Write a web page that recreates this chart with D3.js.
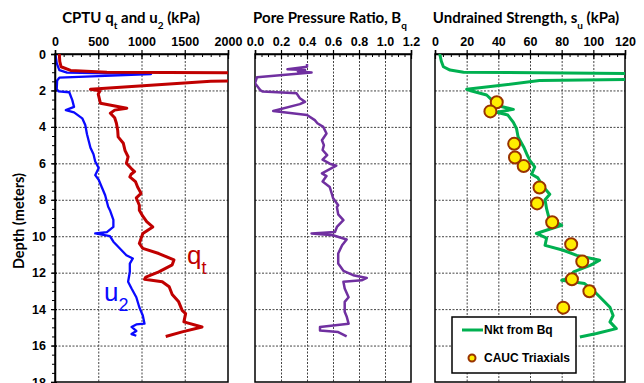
<!DOCTYPE html>
<html>
<head>
<meta charset="utf-8">
<script src="https://cdn.jsdelivr.net/npm/d3@7"></script>
<style>
  body { margin: 0; background: #fff; }
  svg { display: block; font-family: Lato, "Open Sans", sans-serif; }
  .grid line { stroke: #444; stroke-dasharray: 2,1.5; stroke-width: 1; }
  .grid .domain { display: none; }
  .tick text { font-weight: bold; font-size: 12.5px; }
</style>
</head>
<body>
<svg id="viz" width="644" height="383"></svg>
<script>
// ---- data ----
// CPTU tip resistance qt (kPa) vs depth (m)
const qtDepth = [0, 0.4, 0.7, 0.9, 1.0, 1.05, 1.4, 1.5, 1.94, 2.02, 2.2, 2.7, 2.98, 3.08, 3.25, 3.5, 3.8, 4.2, 4.55, 4.9, 5.3, 5.64, 6.0, 6.3, 6.45, 6.6, 6.74, 7.0, 7.3, 7.65, 7.9, 8.3, 8.57, 8.9, 9.2, 9.49, 9.85, 10.4, 10.67, 10.95, 11.3, 11.57, 11.96, 12.24, 12.36, 12.5, 12.77, 13.2, 13.6, 14.07, 14.25, 14.7, 14.98, 15.25, 15.5];
const qtValues = [50, 55, 70, 180, 600, 2600, 2600, 1800, 410, 520, 500, 525, 830, 690, 640, 690, 710, 725, 730, 790, 810, 845, 825, 885, 920, 880, 865, 930, 955, 995, 940, 975, 975, 1015, 1060, 1130, 1015, 975, 1015, 1200, 1375, 1355, 1200, 1050, 1035, 1240, 1320, 1355, 1430, 1470, 1510, 1490, 1700, 1470, 1280];

// pore pressure u2 (kPa)
const u2Depth = [0, 0.5, 0.88, 1.02, 1.1, 1.3, 1.45, 1.92, 2.05, 2.1, 2.53, 2.9, 3.08, 3.2, 3.53, 3.9, 4.4, 4.77, 5.15, 5.5, 5.9, 6.25, 6.65, 6.9, 7.3, 7.75, 8.38, 8.57, 9.1, 9.49, 9.77, 9.85, 10.0, 10.3, 10.67, 11.04, 11.22, 11.5, 11.96, 12.5, 12.87, 13.35, 13.9, 14.35, 14.8, 14.84, 14.98, 15.2, 15.37, 15.46];
const u2Values = [5, 20, 50, 140, 1110, 50, 25, 20, 40, 165, 200, 220, 125, 220, 315, 350, 370, 390, 410, 445, 465, 505, 465, 505, 540, 580, 615, 635, 675, 675, 600, 465, 635, 675, 750, 825, 900, 865, 865, 845, 885, 940, 975, 1015, 1035, 940, 885, 940, 885, 940];

// pore pressure ratio Bq
const bqDepth = [0.55, 0.7, 0.84, 0.88, 0.95, 1.02, 1.28, 1.6, 1.98, 2.06, 2.16, 2.43, 2.62, 2.75, 3.13, 3.35, 3.63, 3.8, 4.0, 4.36, 4.73, 5.0, 5.27, 5.55, 5.8, 6.02, 6.13, 6.55, 6.7, 7.0, 7.3, 7.65, 7.9, 8.3, 8.4, 8.8, 9.12, 9.49, 9.77, 9.85, 9.95, 10.18, 10.5, 10.95, 11.5, 11.9, 12.14, 12.29, 12.42, 12.5, 12.87, 13.35, 13.6, 14.15, 14.4, 14.8, 14.98, 15.17, 15.26, 15.5];
const bqValues = [0.40, 0.40, 0.25, 0.385, 0.33, 0.435, 0.015, 0.0, 0.04, 0.06, 0.32, 0.345, 0.385, 0.345, 0.14, 0.40, 0.46, 0.48, 0.525, 0.55, 0.515, 0.53, 0.52, 0.555, 0.52, 0.575, 0.625, 0.515, 0.55, 0.52, 0.575, 0.59, 0.6, 0.64, 0.63, 0.64, 0.68, 0.63, 0.615, 0.435, 0.6, 0.705, 0.67, 0.64, 0.64, 0.68, 0.755, 0.86, 0.82, 0.68, 0.69, 0.72, 0.69, 0.69, 0.705, 0.72, 0.5, 0.5, 0.64, 0.705];

// undrained strength su (kPa), Nkt from Bq
const suDepth = [0, 0.4, 0.7, 0.88, 1.0, 1.07, 1.39, 1.46, 1.94, 2.0, 2.25, 2.53, 2.8, 3.04, 3.2, 3.35, 3.75, 4.1, 4.55, 5.1, 5.5, 5.85, 6.2, 6.6, 6.8, 7.3, 7.7, 8.0, 8.5, 9.0, 9.4, 9.85, 10.1, 10.5, 10.77, 11.05, 11.32, 11.6, 11.96, 12.3, 12.42, 12.6, 13.06, 13.5, 13.9, 14.35, 14.7, 15.07, 15.34, 15.53];
const suValues = [3, 4, 5.3, 9.5, 18, 130, 130, 66, 20, 22, 32.6, 36, 38, 49.5, 39, 46, 49.5, 51.5, 52.5, 56, 58, 60, 63, 61, 65, 68.5, 72.5, 69.5, 70.5, 72, 80, 64, 70.5, 69.5, 81, 89.5, 104, 98, 87.5, 84, 80, 94.5, 101, 106, 110.5, 112.5, 110.5, 114.5, 102, 91.5];

// CAUC triaxial tests
const triaxDepth = [2.65, 3.15, 4.93, 5.68, 6.15, 7.33, 8.2, 9.23, 10.44, 11.39, 12.36, 13.02, 13.92];
const triaxValues = [39, 35, 50, 50.5, 56, 66, 64.5, 74, 86, 93, 86.5, 97.5, 81];

const depthTicks = [0, 2, 4, 6, 8, 10, 12, 14, 16, 18];
const qTicks = [0, 500, 1000, 1500, 2000];
const bqTicks = [0, 0.2, 0.4, 0.6, 0.8, 1.0, 1.2];
const suTicks = [0, 20, 40, 60, 80, 100, 120];

function zip(depths, values) {
  return depths.map((d, i) => ({ depth: d, value: values[i] }));
}

const svg = d3.select("#viz");
const plotTop = 54, plotBottom = 382;

const y = d3.scaleLinear().domain([0, 18]).range([plotTop, plotBottom]);

// one panel per quantity
const panels = [
  { id: "p1", x: d3.scaleLinear().domain([0, 2000]).range([55, 228]), ticks: qTicks, minor: d3.range(0, 2001, 100), fmt: d3.format("d") },
  { id: "p2", x: d3.scaleLinear().domain([0, 1.2]).range([255, 411]), ticks: bqTicks, minor: d3.range(0, 1.2001, 0.05), fmt: d3.format(".1f") },
  { id: "p3", x: d3.scaleLinear().domain([0, 120]).range([435, 625]), ticks: suTicks, minor: d3.range(0, 121, 5), fmt: d3.format("d") }
];

panels.forEach(p => {
  const [x0, x1] = p.x.range();
  const g = svg.append("g");

  svg.append("clipPath").attr("id", "clip-" + p.id)
    .append("rect").attr("x", x0).attr("y", plotTop).attr("width", x1 - x0).attr("height", plotBottom - plotTop);

  // grid
  g.append("g").attr("class", "grid")
    .attr("transform", `translate(0,${plotTop})`)
    .call(d3.axisTop(p.x).tickValues(p.ticks.slice(1, -1)).tickSize(-(plotBottom - plotTop)).tickFormat(""));
  g.append("g").attr("class", "grid")
    .attr("transform", `translate(${x0},0)`)
    .call(d3.axisLeft(y).tickValues(depthTicks.slice(1, -1)).tickSize(-(x1 - x0)).tickFormat(""));

  // frame
  g.append("rect").attr("x", x0).attr("y", plotTop).attr("width", x1 - x0).attr("height", plotBottom - plotTop)
    .attr("fill", "none").attr("stroke", "#000").attr("stroke-width", 1.5);

  // top axis: minor ticks inside, major ticks across
  g.append("g").attr("transform", `translate(0,${plotTop})`)
    .call(d3.axisTop(p.x).tickValues(p.minor).tickSize(-3).tickFormat(""))
    .call(a => a.select(".domain").remove())
    .selectAll("line").attr("stroke", "#000").attr("stroke-width", 1);
  g.append("g").attr("transform", `translate(0,${plotTop})`)
    .call(d3.axisTop(p.x).tickValues(p.ticks).tickSize(4).tickPadding(4).tickFormat(p.fmt))
    .call(a => a.select(".domain").attr("stroke-width", 1.5))
    .call(a => a.selectAll("line").attr("stroke-width", 1.2).attr("y2", -4).attr("y1", 5));

  p.g = g;
});

// depth axis on the first panel
const yAxis = svg.append("g").attr("transform", `translate(55,0)`);
yAxis.call(d3.axisLeft(y).tickValues(d3.range(0, 18.01, 0.5)).tickSize(3).tickFormat(""))
  .call(a => a.select(".domain").remove());
yAxis.append("g")
  .call(d3.axisLeft(y).tickValues(depthTicks).tickSize(4).tickPadding(5).tickFormat(d3.format("d")))
  .call(a => a.select(".domain").attr("stroke-width", 1.5))
  .call(a => a.selectAll("line").attr("x1", 2).attr("stroke-width", 1.2));

svg.append("text")
  .attr("transform", "translate(24,221) rotate(-90)")
  .attr("text-anchor", "middle")
  .attr("font-weight", "bold").attr("font-size", 14.5)
  .text("Depth (meters)");

// titles with subscripts
function title(x, parts) {
  const t = svg.append("text").attr("x", x).attr("y", 23)
    .attr("text-anchor", "middle").attr("font-weight", "bold").attr("font-size", 15);
  parts.forEach(([s, sub]) => {
    const ts = t.append("tspan").text(s);
    if (sub) ts.attr("baseline-shift", "sub").attr("font-size", 10);
  });
}
title(131, [["CPTU q"], ["t", true], [" and u"], ["2", true], [" (kPa)"]]);
title(330, [["Pore Pressure Ratio, B"], ["q", true]]);
title(526, [["Undrained Strength, s"], ["u", true], [" (kPa)"]]);

// curves
function drawLine(p, depths, values, color, width) {
  const line = d3.line().x(d => p.x(d.value)).y(d => y(d.depth));
  p.g.append("path")
    .datum(zip(depths, values))
    .attr("clip-path", `url(#clip-${p.id})`)
    .attr("fill", "none")
    .attr("stroke", color)
    .attr("stroke-width", width)
    .attr("stroke-linejoin", "round")
    .attr("d", line);
}

drawLine(panels[0], u2Depth, u2Values, "#0a0aff", 2.3);
drawLine(panels[0], qtDepth, qtValues, "#c00000", 3);
drawLine(panels[1], bqDepth, bqValues, "#7030a0", 2.5);
drawLine(panels[2], suDepth, suValues, "#00b050", 3);

// curve labels in panel 1
const qLab = svg.append("text").attr("x", 187).attr("y", 264).attr("fill", "#c00000").attr("font-size", 26).attr("font-family", "Liberation Sans, Arial, sans-serif");
qLab.append("tspan").text("q");
qLab.append("tspan").attr("baseline-shift", "sub").attr("font-size", 18).text("t");
const uLab = svg.append("text").attr("x", 104).attr("y", 301).attr("fill", "#0a0aff").attr("font-size", 26).attr("font-family", "Liberation Sans, Arial, sans-serif");
uLab.append("tspan").text("u");
uLab.append("tspan").attr("baseline-shift", "sub").attr("font-size", 18).text("2");

// triaxial points
panels[2].g.selectAll("circle.tx")
  .data(zip(triaxDepth, triaxValues))
  .join("circle")
  .attr("class", "tx")
  .attr("cx", d => panels[2].x(d.value))
  .attr("cy", d => y(d.depth))
  .attr("r", 6)
  .attr("fill", "#ffee00")
  .attr("stroke", "#993300")
  .attr("stroke-width", 2);

// legend
const leg = svg.append("g").attr("font-family", "Liberation Sans, Arial, sans-serif").attr("font-weight", "bold").attr("font-size", 12);
leg.append("rect").attr("x", 452).attr("y", 317).attr("width", 124).attr("height", 56)
  .attr("fill", "#fff").attr("stroke", "#000").attr("stroke-width", 1.5);
leg.append("line").attr("x1", 462).attr("x2", 483).attr("y1", 330).attr("y2", 330)
  .attr("stroke", "#00b050").attr("stroke-width", 3);
leg.append("text").attr("x", 484).attr("y", 334).text("Nkt from Bq");
leg.append("circle").attr("cx", 472).attr("cy", 358).attr("r", 3.5)
  .attr("fill", "#ffee00").attr("stroke", "#993300").attr("stroke-width", 2);
leg.append("text").attr("x", 484).attr("y", 362).text("CAUC Triaxials");
</script>
</body>
</html>
